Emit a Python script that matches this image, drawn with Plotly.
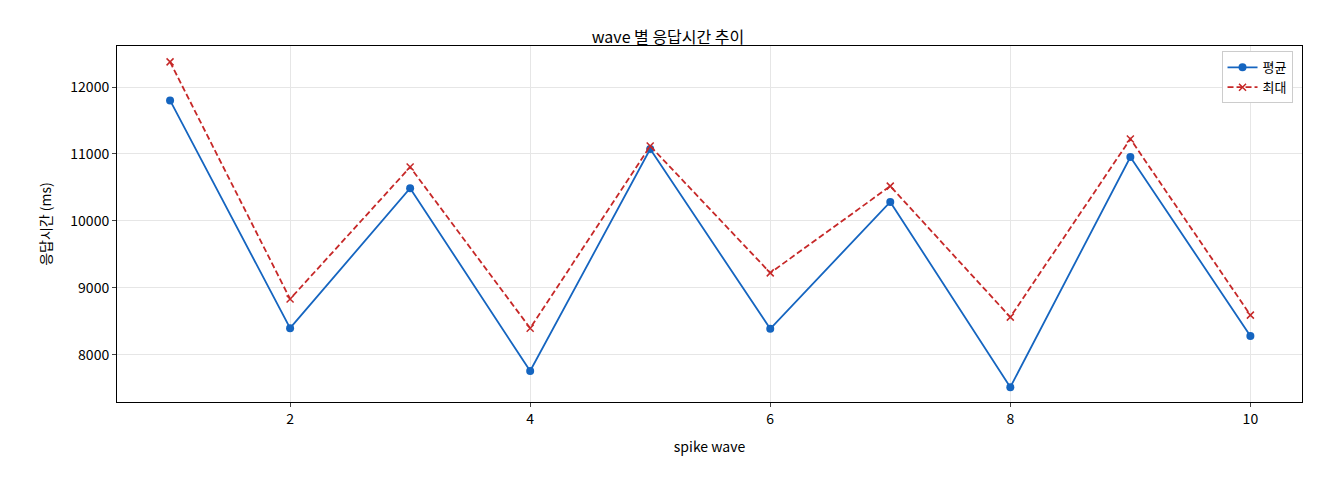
import plotly.graph_objects as go

waves = [1, 2, 3, 4, 5, 6, 7, 8, 9, 10]
avg_ms = [11800, 8400, 10490, 7760, 11075, 8390, 10285, 7520, 10955, 8285]
max_ms = [12375, 8835, 10805, 8400, 11120, 9225, 10520, 8565, 11225, 8595]

font = "Noto Sans CJK KR"
fig = go.Figure()
fig.add_trace(go.Scatter(x=waves, y=avg_ms, name="평균", mode="lines+markers",
                         line=dict(color="#1565c0", width=1.8), marker=dict(size=8, symbol="circle")))
fig.add_trace(go.Scatter(x=waves, y=max_ms, name="최대", mode="lines+markers",
                         line=dict(color="#c62828", width=1.8, dash="6px,3px"),
                         marker=dict(size=7, symbol="x-thin", line=dict(width=1.5, color="#c62828"))))
axis = dict(showline=True, linecolor="black", mirror=True, ticks="outside", ticklen=4,
            showgrid=True, gridcolor="#e6e6e6", zeroline=False, tickfont=dict(size=14, color="black"))
fig.update_layout(
    width=1320, height=480, plot_bgcolor="white", paper_bgcolor="white",
    font=dict(family=font, color="black"),
    margin=dict(l=109, r=26, t=38, b=86),
    title=dict(text="wave 별 응답시간 추이", x=0.5, xanchor="center", y=0.95, font=dict(size=16)),
    xaxis=dict(axis, range=[0.558, 10.43], tickvals=[2, 4, 6, 8, 10],
               title=dict(text="spike wave", font=dict(size=14))),
    yaxis=dict(axis, range=[7298, 12612], tickvals=[8000, 9000, 10000, 11000, 12000], tickformat="d",
               title=dict(text="응답시간 (ms)", font=dict(size=14))),
    legend=dict(x=0.992, y=0.985, xanchor="right", yanchor="top", bgcolor="white",
                bordercolor="#cccccc", borderwidth=1, font=dict(size=13)),
)
fig.write_html("out.html")
